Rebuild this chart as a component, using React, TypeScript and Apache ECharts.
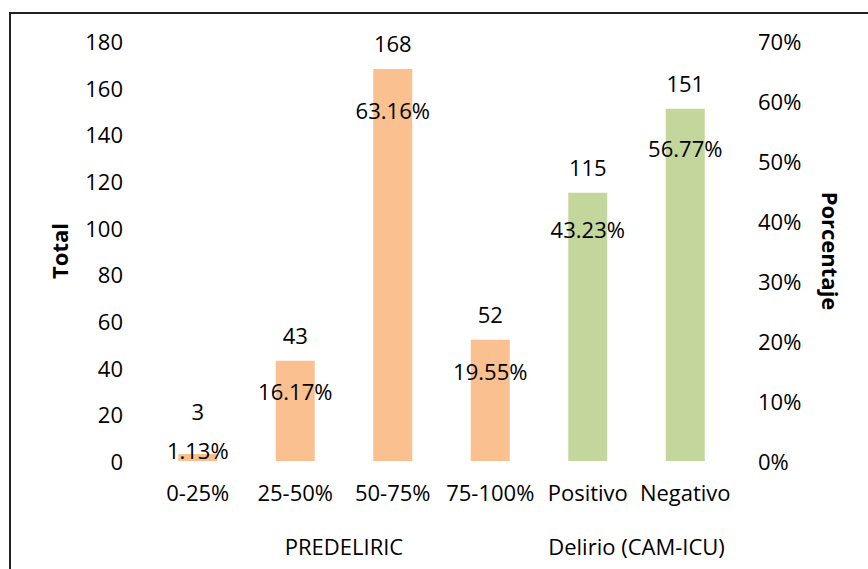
import React, { useEffect, useRef } from "react";
import * as echarts from "echarts";

const categories = ["0-25%", "25-50%", "50-75%", "75-100%", "Positivo", "Negativo"];
const totals = [3, 43, 168, 52, 115, 151];
const percents = [1.13, 16.17, 63.16, 19.55, 43.23, 56.77];
const groupLabels = ["PREDELIRIC", "Delirio (CAM-ICU)"];
const groupCenters = [2, 5];
const leftTicks = { min: 0, max: 180, interval: 20 };
const rightTicks = { min: 0, max: 70, interval: 10 };

const ORANGE = "#FAC090";
const GREEN = "#C3D69B";
const FONT = "'Open Sans', 'Noto Sans', sans-serif";
const FS = 22;

export default function App() {
  const ref = useRef<HTMLDivElement>(null);
  useEffect(() => {
    document.body.style.margin = "0";
    const chart = echarts.init(ref.current!, null, { renderer: "svg" });
    const barData = totals.map((v, i) => {
      const item: any = {
        value: v,
        itemStyle: { color: i < 4 ? ORANGE : GREEN },
      };
      if (i === 0) item.label = { offset: [0, -17] };
      return item;
    });
    const pctData = percents.map((v, i) => {
      const item: any = { value: v };
      if (i === 0) item.label = { position: "inside", offset: [0, -4] };
      return item;
    });
    chart.setOption({
      animation: false,
      backgroundColor: "#fff",
      textStyle: { fontFamily: FONT },
      grid: { left: 149, right: 134, top: 41, bottom: 108 },
      xAxis: [
        {
          type: "category",
          data: categories,
          axisLine: { show: false },
          axisTick: { show: false },
          axisLabel: { color: "#000", fontSize: FS, fontFamily: FONT, margin: 20, interval: 0 },
        },
        {
          type: "value",
          min: 0,
          max: 6,
          interval: 1,
          position: "bottom",
          offset: 54,
          axisLine: { show: false },
          axisTick: { show: false },
          splitLine: { show: false },
          axisLabel: {
            color: "#000",
            fontSize: FS,
            fontFamily: FONT,
            margin: 20,
            showMinLabel: true,
            showMaxLabel: true,
            formatter: (v: number) => {
              const idx = groupCenters.indexOf(v);
              return idx >= 0 ? groupLabels[idx] : "";
            },
          },
        },
      ],
      yAxis: [
        {
          type: "value",
          ...leftTicks,
          name: "Total",
          nameLocation: "middle",
          nameGap: 79,
          nameTextStyle: { fontWeight: "bold", fontSize: FS, color: "#000", fontFamily: FONT },
          axisLine: { show: false },
          axisTick: { show: false },
          splitLine: { show: false },
          axisLabel: { color: "#000", fontSize: FS, fontFamily: FONT, margin: 26 },
        },
        {
          type: "value",
          ...rightTicks,
          name: "Porcentaje",
          nameLocation: "middle",
          nameGap: 86,
          nameRotate: -90,
          nameTextStyle: { fontWeight: "bold", fontSize: FS, color: "#000", fontFamily: FONT },
          axisLine: { show: false },
          axisTick: { show: false },
          splitLine: { show: false },
          axisLabel: { color: "#000", fontSize: FS, fontFamily: FONT, margin: 24, formatter: "{value}%" },
        },
      ],
      series: [
        {
          type: "bar",
          data: barData,
          barWidth: "40%",
          xAxisIndex: 0,
          yAxisIndex: 0,
          label: { show: true, position: "top", distance: 15, color: "#000", fontSize: FS, fontFamily: FONT },
        },
        {
          type: "line",
          data: pctData,
          xAxisIndex: 0,
          yAxisIndex: 1,
          symbol: "circle",
          symbolSize: 1,
          showSymbol: true,
          itemStyle: { color: "rgba(0,0,0,0)", borderWidth: 0 },
          lineStyle: { width: 0, color: "rgba(0,0,0,0)" },
          z: 5,
          label: {
            show: true,
            position: "bottom",
            distance: 16,
            color: "#000",
            fontSize: FS,
            fontFamily: FONT,
            formatter: (p: any) => p.value.toFixed(2) + "%",
          },
        },
      ],
      graphic: [
        {
          type: "rect",
          shape: { x: 10, y: 13, width: 900, height: 600 },
          style: { fill: "none", stroke: "#222", lineWidth: 2 },
          silent: true,
        },
      ],
    });
    return () => chart.dispose();
  }, []);
  return <div ref={ref} style={{ width: 868, height: 569 }} />;
}
